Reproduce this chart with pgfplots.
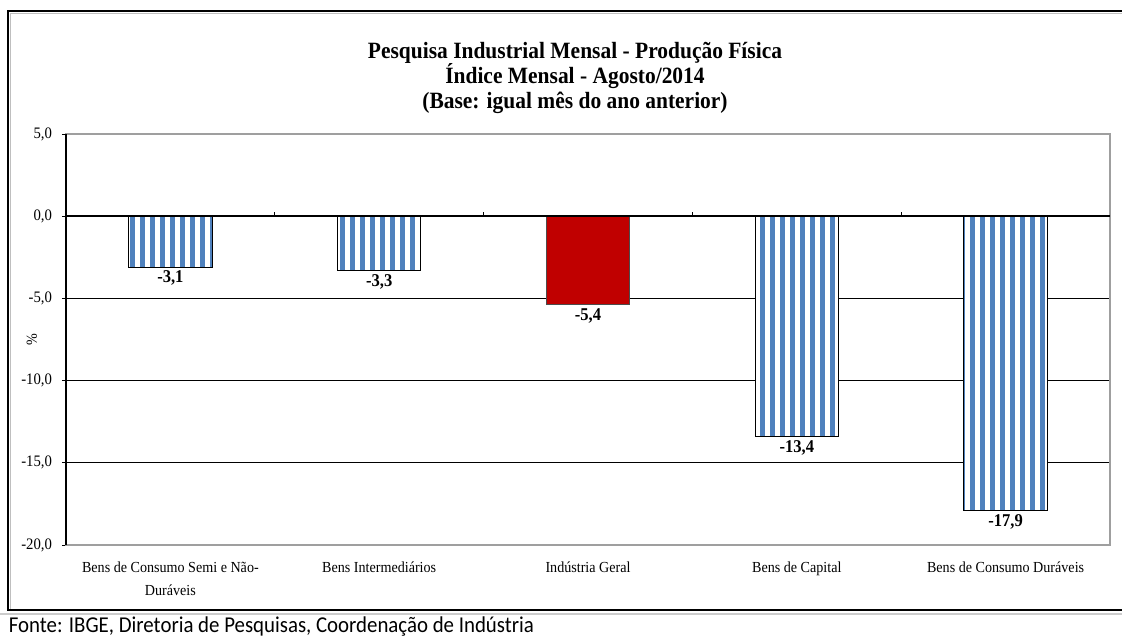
\documentclass[border=0pt]{standalone}
\usepackage{pgfplots}
\pgfplotsset{compat=1.18}
\usepackage{fontspec}
\setmainfont{Liberation Serif}[FakeStretch=0.92]
\newfontfamily\fontefont{Carlito}[FakeStretch=0.92]
\usetikzlibrary{patterns.meta}
\definecolor{barblue}{RGB}{79,129,189}
\definecolor{barred}{RGB}{192,0,0}
\tikzdeclarepattern{
  name=vstripesc,
  type=colored,
  bounding box={(0pt,0pt) and (7.5pt,400pt)},
  tile size={(7.5pt,400pt)},
  code={\fill[white] (0pt,0pt) rectangle (7.5pt,400pt);
        \fill[barblue] (0pt,0pt) rectangle (4pt,400pt);}
}
\begin{document}
\begin{tikzpicture}
\useasboundingbox (0pt,0pt) rectangle (841.5pt,-479.25pt);
\fill[white] (0pt,0pt) rectangle (841.5pt,-479.25pt);
% outer frame
\draw[black, line width=1.5pt] (848pt,-8.25pt) -- (6pt,-8.25pt) -- (6pt,-457.5pt) -- (848pt,-457.5pt);
\draw[gray!50, line width=0.75pt] (848pt,-9.9pt) -- (7.6pt,-9.9pt) -- (7.6pt,-456.5pt);
\draw[gray!40, line width=1pt] (0pt,-460.5pt) -- (848pt,-460.5pt);
% title
\node[align=center, font=\fontsize{17.5}{18.75}\selectfont\bfseries] at (431.25pt,-58.5pt)
  {Pesquisa Industrial Mensal - Produção Física\\Índice Mensal - Agosto/2014\\(Base: igual mês do ano anterior)};
% source
\node[anchor=base west, inner sep=0pt, font=\fontefont\fontsize{17}{20}\selectfont] at (6.5pt,-474pt)
  {Fonte: IBGE, Diretoria de Pesquisas, Coordenação de Indústria};
\begin{axis}[
  at={(49.5pt,-408.75pt)}, anchor=south west,
  scale only axis, width=783pt, height=308.25pt,
  xmin=-0.5, xmax=4.5, ymin=-20, ymax=5,
  xtick={0,...,4},
  xticklabels={{Bens de Consumo Semi e Não-\\Duráveis},{Bens Intermediários},{Indústria Geral},{Bens de Capital},{Bens de Consumo Duráveis}},
  xticklabel style={align=center, font=\fontsize{11.5}{17.25}\selectfont, yshift=-6pt},
  x tick style={draw=none},
  ytick={-20,-15,...,5},
  ytick pos=left,
  yticklabel style={font=\fontsize{12}{13}\selectfont, xshift=-4pt},
  y tick style={black, line width=0.75pt},
  tick align=outside, major tick length=3pt,
  ymajorgrids, grid style={black, line width=0.75pt},
  axis line style={draw=gray!75, line width=1.2pt},
  /pgf/number format/fixed, /pgf/number format/fixed zerofill,
  /pgf/number format/precision=1, /pgf/number format/use comma,
  /pgf/number format/assume math mode=true,
  ylabel={\%},
  ylabel style={at={(axis description cs:-0.0326,0.5)}, anchor=center, font=\fontsize{11.5}{13}\selectfont},
  nodes near coords,
  nodes near coords style={anchor=north, inner sep=2.5pt, font=\fontsize{13.5}{15}\selectfont\bfseries, black},
  clip=false,
]
\addplot[ybar, bar width=0.4, bar shift=0pt, draw=black, line width=0.75pt, pattern={vstripesc}]
  coordinates {(0,-3.1) (1,-3.3) (3,-13.4) (4,-17.9)};
\addplot[ybar, bar width=0.4, bar shift=0pt, draw=black!70, line width=0.75pt, fill=barred]
  coordinates {(2,-5.4)};
\draw[black, line width=1.5pt] (axis cs:-0.5,0) -- (axis cs:4.5,0);
\draw[black, line width=1.5pt] (axis cs:-0.5,-20) -- (axis cs:-0.5,5);
\pgfplotsinvokeforeach{0.5,1.5,2.5,3.5}{\draw[black, line width=0.75pt] (axis cs:#1,0) -- ++(0pt,3pt);}
\end{axis}
\end{tikzpicture}
\end{document}
